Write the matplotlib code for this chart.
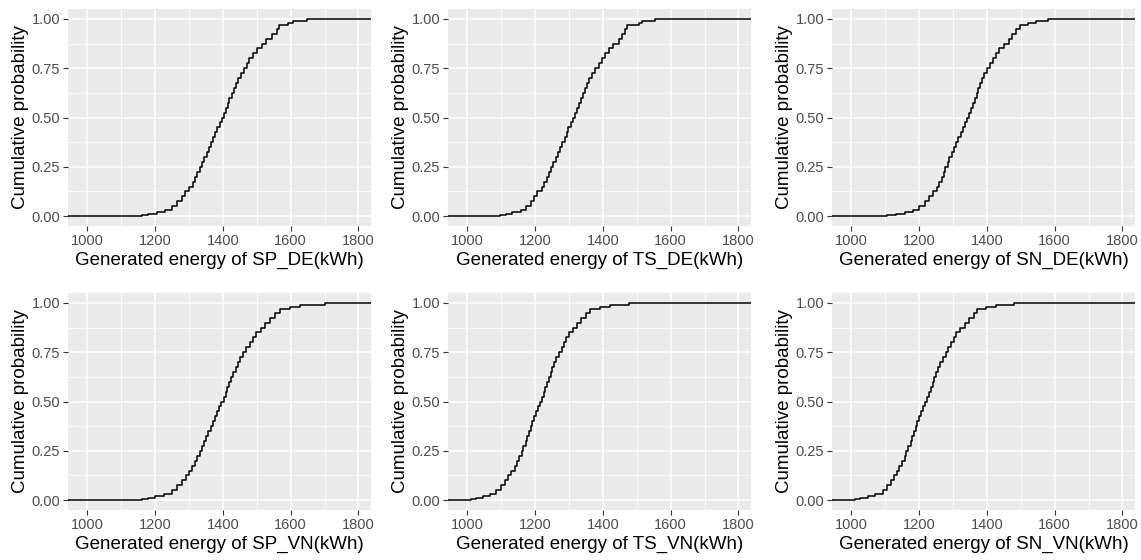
import matplotlib
matplotlib.use("Agg")
import matplotlib.pyplot as plt
from matplotlib.ticker import MultipleLocator

plt.rcParams["font.family"] = ["Liberation Sans", "DejaVu Sans"]

# cumulative probability levels shared by all panels
levels = [0.005, 0.01, 0.02, 0.03, 0.05, 0.075,
          0.1, 0.125, 0.15, 0.175, 0.2, 0.225, 0.25, 0.275, 0.3, 0.325, 0.35, 0.375,
          0.4, 0.425, 0.45, 0.475, 0.5, 0.525, 0.55, 0.575, 0.6, 0.625, 0.65, 0.675,
          0.7, 0.725, 0.75, 0.775, 0.8, 0.825, 0.85, 0.875, 0.9, 0.925, 0.95,
          0.97, 0.98, 0.99, 1.0]

# energy (kWh) at which each level is reached
sp_de = [1160, 1180, 1205, 1229, 1249, 1264,
         1279, 1288, 1301, 1311, 1318, 1325, 1331, 1338, 1345, 1352, 1358, 1365,
         1370, 1377, 1384, 1390, 1397, 1404, 1409, 1415, 1419, 1426, 1433, 1439,
         1446, 1453, 1463, 1470, 1478, 1488, 1500, 1515, 1527, 1544, 1559,
         1567, 1593, 1608, 1647]
ts_de = [1095, 1114, 1133, 1158, 1173, 1187,
         1197, 1207, 1219, 1226, 1234, 1241, 1248, 1254, 1261, 1268, 1274, 1280,
         1287, 1293, 1298, 1305, 1312, 1318, 1323, 1329, 1336, 1342, 1348, 1354,
         1360, 1369, 1378, 1388, 1396, 1406, 1418, 1430, 1447, 1457, 1466,
         1471, 1506, 1516, 1555]
sn_de = [1105, 1132, 1157, 1181, 1201, 1216,
         1230, 1240, 1253, 1260, 1267, 1273, 1277, 1285, 1289, 1296, 1302, 1309,
         1316, 1324, 1329, 1334, 1340, 1347, 1353, 1359, 1365, 1370, 1375, 1381,
         1385, 1391, 1401, 1410, 1417, 1427, 1437, 1450, 1464, 1473, 1486,
         1499, 1521, 1545, 1580]
sp_vn = [1160, 1180, 1200, 1225, 1249, 1264,
         1279, 1290, 1301, 1310, 1318, 1325, 1331, 1338, 1343, 1350, 1357, 1364,
         1370, 1377, 1384, 1389, 1395, 1402, 1408, 1413, 1419, 1425, 1431, 1438,
         1444, 1451, 1459, 1468, 1479, 1488, 1498, 1512, 1525, 1539, 1554,
         1569, 1598, 1628, 1702]
ts_vn = [1010, 1027, 1047, 1067, 1086, 1098,
         1111, 1121, 1130, 1140, 1147, 1153, 1160, 1165, 1172, 1177, 1182, 1188,
         1192, 1197, 1202, 1209, 1214, 1220, 1225, 1230, 1235, 1241, 1246, 1251,
         1256, 1263, 1271, 1278, 1285, 1292, 1300, 1312, 1324, 1336, 1351,
         1361, 1392, 1420, 1478]
sn_vn = [1010, 1025, 1049, 1069, 1093, 1105,
         1116, 1126, 1135, 1142, 1150, 1157, 1162, 1168, 1175, 1180, 1185, 1190,
         1195, 1199, 1205, 1211, 1217, 1223, 1228, 1234, 1240, 1245, 1250, 1256,
         1262, 1270, 1278, 1286, 1294, 1302, 1309, 1321, 1334, 1347, 1361,
         1370, 1398, 1427, 1481]

names = ["SP_DE", "TS_DE", "SN_DE", "SP_VN", "TS_VN", "SN_VN"]
series = [sp_de, ts_de, sn_de, sp_vn, ts_vn, sn_vn]

XLIM = (943, 1837)

fig = plt.figure(figsize=(11.41, 5.6), dpi=100)
lefts = [68, 448, 832]
tops = [9, 293]
W, H = 303, 217

for i, (name, q) in enumerate(zip(names, series)):
    r, c = divmod(i, 3)
    ax = fig.add_axes([lefts[c] / 1141, 1 - (tops[r] + H) / 560, W / 1141, H / 560])
    ax.set_facecolor("#EBEBEB")
    for s in ax.spines.values():
        s.set_visible(False)

    ax.set_xlim(*XLIM)
    ax.set_ylim(-0.05, 1.05)
    ax.xaxis.set_major_locator(MultipleLocator(200))
    ax.xaxis.set_minor_locator(MultipleLocator(100))
    ax.yaxis.set_minor_locator(MultipleLocator(0.125))
    ax.set_yticks([0, 0.25, 0.5, 0.75, 1.0])
    ax.set_yticklabels(["0.00", "0.25", "0.50", "0.75", "1.00"])

    ax.grid(which="major", color="white", lw=1.1)
    ax.grid(which="minor", color="white", lw=0.55)
    ax.set_axisbelow(True)
    ax.tick_params(which="major", length=3.5, width=0.8, color="#333333",
                   labelcolor="#4D4D4D", labelsize=10.5, pad=2)
    ax.tick_params(which="minor", length=0)

    xs = [XLIM[0]] + list(q) + [XLIM[1]]
    ys = [0.0] + list(levels) + [levels[-1]]
    ax.step(xs, ys, where="post", color="black", lw=1.1)

    ax.set_xlabel(f"Generated energy of {name}(kWh)", fontsize=13.5, labelpad=3)
    ax.set_ylabel("Cumulative probability", fontsize=13.5, labelpad=2)

fig.savefig("out.png", dpi=100)
